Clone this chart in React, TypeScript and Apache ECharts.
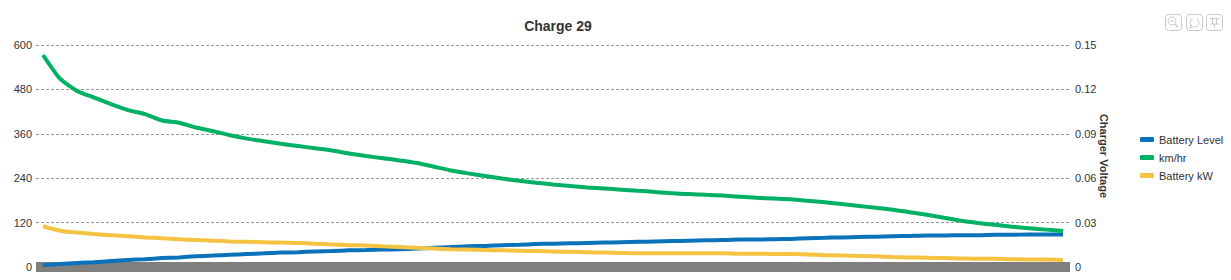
import React, { useEffect, useRef } from "react";
import * as echarts from "echarts";

const title = "Charge 29";
const seriesNames = ["Battery Level", "km/hr", "Battery kW"];
const leftTicks = { min: 0, max: 600, interval: 120 };
const rightTicks = { min: 0, max: 0.15, interval: 0.03 };
const rightAxisName = "Charger Voltage";

const batteryLevel = [
  5, 8, 11, 13, 16, 19, 21, 24, 26, 29, 31, 33, 35, 37, 39, 40, 42, 43, 45, 46,
  47, 48, 50, 52, 54, 56, 57, 59, 60, 62, 63, 64, 65, 66, 67, 68, 69, 70, 71, 72,
  73, 74, 74, 75, 76, 78, 79, 80, 81, 82, 83, 84, 85, 85, 86, 86, 87, 87, 88, 88, 88,
];
const kmPerHr = [
  573, 509, 476, 458, 440, 424, 413, 396, 390, 377, 367, 356, 347, 340, 333, 327, 321, 315, 307, 300,
  294, 288, 281, 271, 261, 253, 246, 239, 233, 228, 223, 219, 215, 212, 209, 206, 203, 199, 197, 195,
  193, 190, 187, 185, 183, 179, 175, 170, 165, 160, 155, 148, 141, 133, 125, 119, 114, 109, 105, 101, 97,
];
const batteryKw = [
  110, 98, 93, 89, 86, 83, 80, 78, 75, 73, 71, 69, 68, 67, 66, 65, 63, 61, 59, 58,
  56, 54, 52, 50, 48, 47, 46, 45, 44, 43, 42, 41, 40, 39, 38, 37, 37, 37, 37, 37,
  37, 36, 36, 35, 35, 34, 32, 31, 30, 29, 27, 26, 25, 24, 23, 22, 22, 21, 20, 20, 19,
];

const colors = ["#0a72ba", "#00b064", "#f4c342"];
const FONT = "'Liberation Sans', Arial, Helvetica, sans-serif";

export default function App() {
  const ref = useRef<HTMLDivElement>(null);
  useEffect(() => {
    if (!ref.current) return;
    const chart = echarts.init(ref.current, null, { renderer: "svg" });
    const values = [batteryLevel, kmPerHr, batteryKw];
    const n = kmPerHr.length;
    const pad = 7 / 17;
    const iconStroke = { fill: "none", stroke: "#c8c8c8", lineWidth: 1 };
    chart.setOption({
      animation: false,
      textStyle: { fontFamily: FONT },
      color: colors,
      title: {
        text: title,
        left: 553,
        textAlign: "center",
        top: 14,
        textStyle: { fontSize: 14, fontWeight: "bold", color: "#333", fontFamily: FONT },
      },
      legend: {
        orient: "vertical",
        left: 1135,
        top: 129,
        itemWidth: 14,
        itemHeight: 5,
        itemGap: 7,
        icon: "roundRect",
        data: seriesNames,
        textStyle: { fontSize: 11, color: "#333", fontFamily: FONT },
      },
      grid: { left: 36, right: 161, top: 45, bottom: 13 },
      xAxis: {
        type: "value",
        min: -pad,
        max: n - 1 + pad,
        offset: 5,
        axisLine: { show: true, lineStyle: { color: "#7f7f7f", width: 10, cap: "butt" } },
        axisTick: { show: false },
        axisLabel: { show: false },
        splitLine: { show: false },
      },
      yAxis: [
        {
          type: "value",
          ...leftTicks,
          axisLine: { show: false },
          axisTick: { show: false },
          axisLabel: { fontSize: 11, color: "#333", margin: 4, fontFamily: FONT },
          splitLine: { show: true, lineStyle: { color: "#999", type: [3, 2], width: 1 } },
        },
        {
          type: "value",
          ...rightTicks,
          position: "right",
          name: rightAxisName,
          nameLocation: "middle",
          nameRotate: -90,
          nameGap: 28,
          nameMoveOverlap: false,
          nameTextStyle: { fontSize: 11, fontWeight: "bold", color: "#333", fontFamily: FONT },
          axisLine: { show: false },
          axisTick: { show: false },
          axisLabel: { fontSize: 11, color: "#333", margin: 5, fontFamily: FONT },
          splitLine: { show: false },
        },
      ],
      series: seriesNames.map((name, k) => ({
        name,
        type: "line",
        yAxisIndex: 0,
        showSymbol: false,
        symbol: "none",
        smooth: 0.2,
        lineStyle: { width: 4, color: colors[k] },
        itemStyle: { color: colors[k] },
        data: values[k].map((v, i) => [i, v]),
      })),
      graphic: [
        { type: "rect", shape: { x: 1165.5, y: 14.5, width: 16, height: 16, r: 3 }, style: iconStroke },
        { type: "circle", shape: { cx: 1172, cy: 21, r: 4 }, style: iconStroke },
        { type: "line", shape: { x1: 1175, y1: 24, x2: 1178, y2: 27 }, style: { stroke: "#c8c8c8", lineWidth: 1.5 } },
        { type: "line", shape: { x1: 1170, y1: 21, x2: 1174, y2: 21 }, style: iconStroke },
        { type: "rect", shape: { x: 1186.5, y: 14.5, width: 16, height: 16, r: 3 }, style: iconStroke },
        { type: "arc", shape: { cx: 1194.5, cy: 22.5, r: 4.5, startAngle: -Math.PI / 3, endAngle: Math.PI * 1.35 }, style: iconStroke },
        { type: "polyline", shape: { points: [[1190, 25], [1192, 27], [1189, 28]] }, style: iconStroke },
        { type: "rect", shape: { x: 1206.5, y: 14.5, width: 16, height: 16, r: 3 }, style: iconStroke },
        { type: "line", shape: { x1: 1210, y1: 18.5, x2: 1219, y2: 18.5 }, style: iconStroke },
        { type: "line", shape: { x1: 1212.5, y1: 18.5, x2: 1212.5, y2: 24 }, style: iconStroke },
        { type: "line", shape: { x1: 1216.5, y1: 18.5, x2: 1216.5, y2: 24 }, style: iconStroke },
        { type: "line", shape: { x1: 1210, y1: 24, x2: 1219, y2: 24 }, style: iconStroke },
        { type: "line", shape: { x1: 1214.5, y1: 24, x2: 1214.5, y2: 28 }, style: iconStroke },
      ],
    });
    return () => chart.dispose();
  }, []);
  return (
    <div
      ref={ref}
      style={{ position: "fixed", left: 0, top: 0, width: 1231, height: 280, background: "#fff" }}
    />
  );
}
